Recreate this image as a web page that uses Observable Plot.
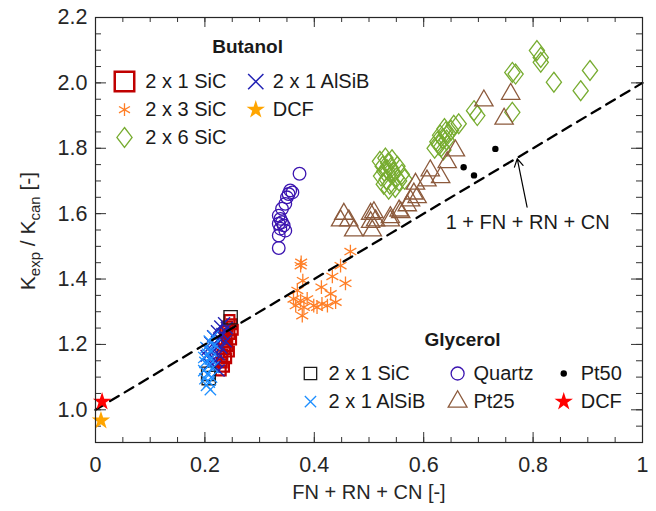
<!DOCTYPE html>
<html><head><meta charset="utf-8">
<script src="https://cdn.jsdelivr.net/npm/d3@7"></script>
<script src="https://cdn.jsdelivr.net/npm/@observablehq/plot@0.6"></script>
<style>body{margin:0;background:#fff} svg{font-family:"Liberation Sans",Arial,sans-serif}</style>
</head><body><div id="chart"></div><script>
// ---------- data ----------
// Butanol
const buSiC21X = [0.245,0.249,0.241,0.251,0.237,0.245,0.240,0.248,0.234,0.241,0.237,0.244,0.232,0.239,0.231,0.235,0.229];
const buSiC21Y = [1.275,1.262,1.255,1.245,1.240,1.232,1.220,1.215,1.205,1.195,1.185,1.178,1.168,1.158,1.145,1.132,1.120];
const buAlSiBX = [0.235,0.228,0.240,0.222,0.232,0.215,0.226,0.238,0.210,0.220,0.230,0.205,0.215,0.225,0.212,0.220,0.208,0.218,0.225,0.203];
const buAlSiBY = [1.265,1.255,1.250,1.240,1.232,1.225,1.218,1.210,1.205,1.198,1.190,1.185,1.178,1.170,1.160,1.150,1.140,1.132,1.120,1.165];
const buSiC23X = [0.466,0.376,0.375,0.448,0.379,0.433,0.457,0.413,0.369,0.430,0.362,0.375,0.387,0.366,0.399,0.414,0.439,0.424,0.381,0.378,0.405];
const buSiC23Y = [1.484,1.451,1.441,1.441,1.395,1.408,1.387,1.375,1.365,1.355,1.339,1.334,1.339,1.319,1.319,1.324,1.329,1.319,1.314,1.288,1.314];
const buSiC26X = [0.520,0.525,0.530,0.528,0.535,0.540,0.522,0.532,0.545,0.550,0.538,0.555,0.548,0.560,0.527,0.542,0.533,0.552,0.565,0.536,
                  0.625,0.630,0.635,0.640,0.632,0.645,0.638,0.628,0.642,0.650,0.636,0.655,0.620,
                  0.664,0.692,0.698,0.762,0.762,0.768,0.807,0.814,0.814,0.838,0.904,0.887];
const buSiC26Y = [1.760,1.745,1.770,1.730,1.755,1.740,1.715,1.705,1.725,1.710,1.690,1.700,1.680,1.720,1.690,1.765,1.735,1.745,1.705,1.675,
                  1.820,1.840,1.830,1.850,1.805,1.845,1.860,1.810,1.825,1.855,1.795,1.870,1.800,
                  1.875,1.915,1.900,1.910,2.032,2.027,2.099,2.078,2.063,2.002,2.038,1.976];
const buDcfX = [0.010];
const buDcfY = [0.967];
// Glycerol
const glSiC21X = [0.247,0.207,0.206];
const glSiC21Y = [1.283,1.097,1.110];
const glAlSiBX = [0.215,0.208,0.218,0.202,0.212,0.205,0.198,0.210,0.200,0.207,0.215,0.198,0.205,0.212,0.200,0.208,0.203,0.210];
const glAlSiBY = [1.225,1.210,1.200,1.190,1.180,1.170,1.160,1.155,1.145,1.135,1.130,1.120,1.110,1.100,1.095,1.085,1.075,1.062];
const glQuartzX = [0.373,0.356,0.353,0.360,0.350,0.347,0.341,0.335,0.338,0.341,0.335,0.344,0.338,0.347,0.335,0.335];
const glQuartzY = [1.722,1.671,1.660,1.665,1.650,1.630,1.615,1.594,1.584,1.574,1.569,1.564,1.554,1.548,1.533,1.495];
const glPt25X = [0.710,0.759,0.747,0.658,0.643,0.612,0.631,0.606,0.585,0.582,0.576,0.588,0.558,0.570,0.539,0.509,0.503,0.454,0.448,0.463,0.472,0.503,0.512,0.539,0.506,0.555];
const glPt25Y = [1.946,1.966,1.890,1.793,1.757,1.732,1.711,1.701,1.691,1.661,1.640,1.650,1.604,1.625,1.589,1.604,1.574,1.599,1.579,1.579,1.548,1.599,1.579,1.579,1.548,1.609];
const glPt50X = [0.731,0.673,0.692];
const glPt50Y = [1.798,1.742,1.717];
const glDcfX = [0.012];
const glDcfY = [1.025];
// model line 1 + FN + RN + CN
const modelX = [0, 1];
const modelY = [1, 2];
// ticks
const xMajor = [0, 0.2, 0.4, 0.6, 0.8, 1];
const xMinor = d3.range(0, 21).map(i => i / 20);
const yMajor = [1.0, 1.2, 1.4, 1.6, 1.8, 2.0, 2.2];
const yMinor = d3.range(18, 45).map(i => i / 20);
// legends
const buLabels = ["2 x 1 SiC", "2 x 3 SiC", "2 x 6 SiC", "2 x 1 AlSiB", "DCF"];
const glLabels = ["2 x 1 SiC", "2 x 1 AlSiB", "Quartz", "Pt25", "Pt50", "DCF"];
const annotationText = "1 + FN + RN + CN";

// ---------- helpers ----------
const pts = (xs, ys) => xs.map((x, i) => ({x, y: ys[i]}));
const rhombus = {draw(ctx, size) { const r = Math.sqrt(size / Math.PI); const a = r * 0.8, b = r * 1.05;
  ctx.moveTo(0, -b); ctx.lineTo(a, 0); ctx.lineTo(0, b); ctx.lineTo(-a, 0); ctx.closePath(); }};

const C = {red: "#c00000", navy: "#2222b4", orange: "#ff7f27", green: "#77ac30", gold: "#ffa500",
  black: "#1a1a1a", sky: "#1e8fff", purple: "#3b14b0", brown: "#8c5a3c", dcf: "#ff0000"};

const FW = 547, FH = 425; // frame size (px) for tick lengths
const font = "Liberation Sans, Arial, sans-serif";

// legend layout (data coordinates)
const buRows = [2.004, 1.918, 1.833];
const glRows = [1.111, 1.025];
const legendItems = [
  {x: 0.053, y: buRows[0], sym: "square", c: C.red, r: 11, sw: 2.5, fill: "none"},
  {x: 0.053, y: buRows[1], sym: "asterisk", c: C.orange, r: 6, sw: 1.3, fill: "none"},
  {x: 0.053, y: buRows[2], sym: rhombus, c: C.green, r: 9.5, sw: 1.3, fill: "none"},
  {x: 0.293, y: buRows[0], sym: "times", c: C.navy, r: 7, sw: 1.5, fill: "none"},
  {x: 0.293, y: buRows[1], sym: "star", c: null, r: 5.8, sw: 0, fill: C.gold},
  {x: 0.393, y: glRows[0], sym: "square", c: C.black, r: 7, sw: 1.3, fill: "none"},
  {x: 0.393, y: glRows[1], sym: "times", c: C.sky, r: 5.2, sw: 1.3, fill: "none"},
  {x: 0.662, y: glRows[0], sym: "circle", c: C.purple, r: 6.5, sw: 1.3, fill: "none"},
  {x: 0.662, y: glRows[1], sym: "triangle", c: C.brown, r: 7, sw: 1.3, fill: "none"},
  {x: 0.856, y: glRows[0], sym: "circle", c: null, r: 3.2, sw: 0, fill: "#000"},
  {x: 0.856, y: glRows[1], sym: "star", c: null, r: 5.8, sw: 0, fill: C.dcf}
];
const legendTexts = [
  {x: 0.091, y: buRows[0], t: buLabels[0]}, {x: 0.091, y: buRows[1], t: buLabels[1]}, {x: 0.091, y: buRows[2], t: buLabels[2]},
  {x: 0.324, y: buRows[0], t: buLabels[3]}, {x: 0.324, y: buRows[1], t: buLabels[4]},
  {x: 0.426, y: glRows[0], t: glLabels[0]}, {x: 0.426, y: glRows[1], t: glLabels[1]},
  {x: 0.691, y: glRows[0], t: glLabels[2]}, {x: 0.691, y: glRows[1], t: glLabels[3]},
  {x: 0.887, y: glRows[0], t: glLabels[4]}, {x: 0.887, y: glRows[1], t: glLabels[5]}
];

const openDot = (data, sym, color, r, sw = 1.3) =>
  Plot.dot(data, {x: "x", y: "y", symbol: () => sym, r, stroke: color, strokeWidth: sw, fill: "none"});

const chart = Plot.plot({
  width: 656, height: 511,
  marginLeft: 95, marginRight: 14, marginTop: 17, marginBottom: 69,
  x: {domain: [0, 1]},
  y: {domain: [0.9, 2.2]},
  symbol: {type: "identity"},
  style: {fontFamily: font, fontSize: "20px", color: "#262626", background: "#fff", overflow: "visible"},
  marks: [
    // axes ticks (inward, mirrored)
    Plot.tickX(xMinor, {x: d => d, insetTop: FH - 5, stroke: "#333", strokeWidth: 1}),
    Plot.tickX(xMinor, {x: d => d, insetBottom: FH - 5, stroke: "#333", strokeWidth: 1}),
    Plot.tickX(xMajor, {x: d => d, insetTop: FH - 10, stroke: "#333", strokeWidth: 1}),
    Plot.tickX(xMajor, {x: d => d, insetBottom: FH - 10, stroke: "#333", strokeWidth: 1}),
    Plot.tickY(yMinor, {y: d => d, insetRight: FW - 6, stroke: "#333", strokeWidth: 1}),
    Plot.tickY(yMinor, {y: d => d, insetLeft: FW - 6, stroke: "#333", strokeWidth: 1}),
    Plot.tickY(yMajor, {y: d => d, insetRight: FW - 11, stroke: "#333", strokeWidth: 1}),
    Plot.tickY(yMajor, {y: d => d, insetLeft: FW - 11, stroke: "#333", strokeWidth: 1}),
    Plot.axisX({ticks: xMajor, tickSize: 0, tickPadding: 14, label: null, fontSize: 21.5,
      tickFormat: d => (d === 0 || d === 1) ? String(d) : d.toFixed(1)}),
    Plot.axisY({ticks: yMajor, tickSize: 0, tickPadding: 8, label: null, fontSize: 21.5, tickFormat: d => d.toFixed(1)}),
    Plot.text([ "FN + RN + CN [-]" ], {frameAnchor: "bottom", dy: 50, fontSize: 20, lineAnchor: "middle", fill: "#262626"}),
    // data
    Plot.dot(pts(buSiC26X, buSiC26Y), {x: "x", y: "y", symbol: () => rhombus, r: 9.5, stroke: C.green, strokeWidth: 1.3, fill: "none"}),
    openDot(pts(glPt25X, glPt25Y), "triangle", C.brown, 6.8),
    openDot(pts(buSiC23X, buSiC23Y), "asterisk", C.orange, 6.5, 1.3),
    openDot(pts(glQuartzX, glQuartzY), "circle", C.purple, 6.3),
    openDot(pts(buSiC21X, buSiC21Y), "square", C.red, 5.5, 2.2),
    openDot(pts(buAlSiBX, buAlSiBY), "times", C.navy, 5.5, 1.4),
    openDot(pts(glSiC21X, glSiC21Y), "square", C.black, 7.5, 1.3),
    openDot(pts(glAlSiBX, glAlSiBY), "times", C.sky, 5.2, 1.3),
    Plot.dot(pts(glPt50X, glPt50Y), {x: "x", y: "y", r: 3.2, fill: "#000"}),
    Plot.line(pts(modelX, modelY), {x: "x", y: "y", stroke: "#000", strokeWidth: 2.3, strokeDasharray: "10,7"}),
    Plot.dot(pts(buDcfX, buDcfY), {x: "x", y: "y", symbol: () => "star", r: 5.8, fill: C.gold}),
    Plot.dot(pts(glDcfX, glDcfY), {x: "x", y: "y", symbol: () => "star", r: 5.8, fill: C.dcf}),
    // annotation
    Plot.arrow([{x1: 0.789, y1: 1.62, x2: 0.771, y2: 1.768}], {x1: "x1", y1: "y1", x2: "x2", y2: "y2", stroke: "#000", strokeWidth: 1.2, headLength: 11}),
    Plot.text([annotationText], {x: 0.790, y: 1.573, fontSize: 20, fill: "#1a1a1a"}),
    // legends
    Plot.text(["Butanol"], {x: 0.278, y: 2.111, fontSize: 19, fontWeight: "bold", fill: "#1a1a1a"}),
    Plot.text(["Glycerol"], {x: 0.671, y: 1.215, fontSize: 19, fontWeight: "bold", fill: "#1a1a1a"}),
    ...legendItems.map(d => Plot.dot([d], {x: "x", y: "y", symbol: () => d.sym, r: d.r, stroke: d.c || "none", strokeWidth: d.sw, fill: d.fill})),
    Plot.text(legendTexts, {x: "x", y: "y", text: "t", textAnchor: "start", fontSize: 20, fill: "#1a1a1a"}),
    Plot.frame({stroke: "#262626", strokeWidth: 1.2})
  ]
});
document.getElementById("chart").appendChild(chart);

// y-axis label with subscripts
const svg = d3.select(chart.tagName.toLowerCase() === "svg" ? chart : chart.querySelector("svg"));
const yl = svg.append("text")
  .attr("transform", "translate(35,231) rotate(-90)")
  .attr("text-anchor", "middle")
  .attr("font-family", font).attr("font-size", 21).attr("fill", "#262626");
yl.append("tspan").text("K");
yl.append("tspan").attr("dy", 5).attr("font-size", 15).text("exp");
yl.append("tspan").attr("dy", -5).text(" / K");
yl.append("tspan").attr("dy", 5).attr("font-size", 15).text("can");
yl.append("tspan").attr("dy", -5).text(" [-]");
</script></body></html>
